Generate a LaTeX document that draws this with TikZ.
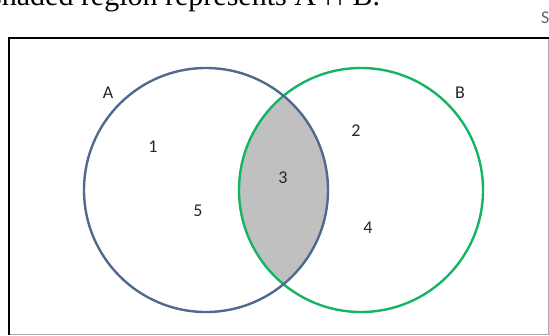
\documentclass[tikz,border=0pt]{standalone}
\usepackage{fontspec}
\setmainfont{Carlito}
\newfontfamily\serifhead{Liberation Serif}
\definecolor{setA}{RGB}{79,106,140}
\definecolor{setB}{RGB}{20,180,100}
\definecolor{lens}{RGB}{192,192,192}
\definecolor{frameLight}{RGB}{170,170,170}
\tikzset{
  setlabel/.style={font=\fontsize{18}{18}\selectfont, inner sep=0pt, anchor=center, text=black!85},
  circA/.style={draw=setA, line width=2.4pt},
  circB/.style={draw=setB, line width=2.4pt},
}
\begin{document}
\begin{tikzpicture}[x=1pt,y=-1pt]
\useasboundingbox (0,0) rectangle (549,335);
\clip (0,0) rectangle (549,335);
% cropped heading
\node[anchor=base west, inner sep=0pt, font=\serifhead\fontsize{30}{30}\selectfont] (head) at (-10,5.5) {shaded region represents A ∩ B.};
\node[anchor=base west, inner sep=0pt, text=black!60, font=\fontsize{18}{18}\selectfont] (slabel) at (541,23) {S};
% universe frame
\draw[frameLight, line width=1pt] (548,38) -- (548,334) -- (9,334);
\draw[black, line width=2pt] (9,335) -- (9,38) -- (549,38);
% circles
\coordinate (cA) at (206,190);
\coordinate (cB) at (361,190);
\begin{scope}
  \clip (cA) circle[radius=122];
  \fill[lens] (cB) circle[radius=122];
\end{scope}
\draw[circB] (cB) circle[radius=122];
\draw[circA] (cA) circle[radius=122];
% labels
\node[setlabel] (lA) at (108,93) {A};
\node[setlabel] (lB) at (460,93) {B};
\node[setlabel] (r1) at (153,147) {1};
\node[setlabel] (r5) at (198,211) {5};
\node[setlabel] (r3) at (283,178) {3};
\node[setlabel] (r2) at (356,131) {2};
\node[setlabel] (r4) at (368,228) {4};
\end{tikzpicture}
\end{document}
